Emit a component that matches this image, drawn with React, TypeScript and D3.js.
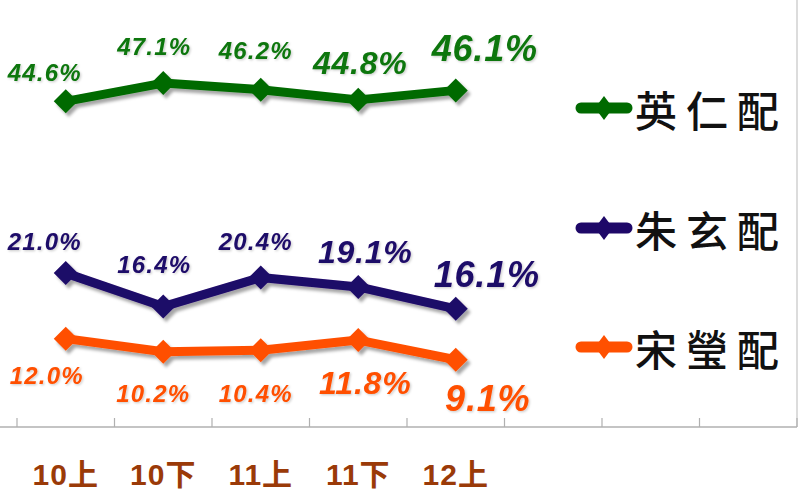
import React from "react";
import * as d3 from "d3";

// ---- data ----
const categories = ["10上", "10下", "11上", "11下", "12上"];
const slotCount = 8; // axis slots (last three empty)
const seriesNames = ["英仁配", "朱玄配", "宋瑩配"];
const yingRen = [44.6, 47.1, 46.2, 44.8, 46.1];
const zhuXuan = [21.0, 16.4, 20.4, 19.1, 16.1];
const songYing = [12.0, 10.2, 10.4, 11.8, 9.1];

// ---- styling / layout ----
const W = 800;
const H = 492;
const lineColors = ["#006a00", "#1e0868", "#ff5000"];
const labelColors = ["#0b760b", "#1e0868", "#ff5000"];
const labelSizes = [24, 24, 24, 32, 36];
const labelDx = [
  [-21, -9, -5, 2, 29],
  [-21, -9, -5, 7, 31],
  [-19, -10, -5, 7, 32],
];
const labelDy = [
  [-20, -28, -31, -26, -29],
  [-23, -34, -27, -24, -22],
  [45, 50, 52, 54, 51],
];
const legendY = [108, 228, 347];

export default function App() {
  const x = d3
    .scaleBand<number>()
    .domain(d3.range(slotCount))
    .range([17, 797])
    .padding(0);
  const y = d3.scaleLinear().domain([0, 50]).range([426, 62]);
  const cx = (i: number) => (x(i) as number) + x.bandwidth() / 2;

  const allSeries = [yingRen, zhuXuan, songYing];
  const line = d3
    .line<number>()
    .x((_, i) => cx(i))
    .y((d) => y(d));

  const diamond = (px: number, py: number, hw: number, hh: number) =>
    `M${px},${py - hh}L${px + hw},${py}L${px},${py + hh}L${px - hw},${py}Z`;

  const axisY = y(0) + 1;
  const ticks = d3.range(slotCount + 1).map((i) => (i < slotCount ? (x(i) as number) : 797));

  return (
    <svg
      width={W}
      height={H}
      style={{ position: "absolute", left: 0, top: 0, display: "block", background: "#fff" }}
    >
      <defs>
        <filter id="shadow" x="-10%" y="-30%" width="130%" height="180%">
          <feDropShadow dx="3" dy="3.5" stdDeviation="1.6" floodColor="#000" floodOpacity="0.35" />
        </filter>
        <filter id="tshadow" x="-10%" y="-30%" width="130%" height="180%">
          <feDropShadow dx="1.2" dy="1.2" stdDeviation="0.8" floodColor="#000" floodOpacity="0.2" />
        </filter>
      </defs>

      {/* right border */}
      <line x1={797} x2={797} y1={0} y2={axisY} stroke="#d0d0d0" strokeWidth={1.5} />

      {/* x axis */}
      <line x1={0} x2={797} y1={axisY} y2={axisY} stroke="#b0b0b0" strokeWidth={1.5} />
      {ticks.map((t, i) => (
        <line key={i} x1={t} x2={t} y1={axisY - 9} y2={axisY} stroke="#b0b0b0" strokeWidth={1.2} />
      ))}
      {categories.map((c, i) => (
        <text
          key={c}
          x={cx(i)}
          y={485}
          textAnchor="middle"
          fontFamily="'Liberation Sans', 'Noto Sans CJK TC', sans-serif"
          fontWeight={700}
          fontSize={30}
          letterSpacing={1}
          fill="#9a3a08"
        >
          {c}
        </text>
      ))}

      {/* series lines + markers */}
      {allSeries.map((s, si) => (
        <g key={si} filter="url(#shadow)">
          <path
            d={line(s) || ""}
            fill="none"
            stroke={lineColors[si]}
            strokeWidth={9}
            strokeLinejoin="round"
          />
          {s.map((v, i) => (
            <path key={i} d={diamond(cx(i), y(v), 12, 12)} fill={lineColors[si]} />
          ))}
        </g>
      ))}

      {/* data labels */}
      {allSeries.map((s, si) => (
        <g key={si} filter="url(#tshadow)">
          {s.map((v, i) => (
            <text
              key={i}
              x={cx(i) + labelDx[si][i]}
              y={y(v) + labelDy[si][i]}
              textAnchor="middle"
              fontFamily="'Liberation Sans', Arial, sans-serif"
              fontWeight={700}
              fontStyle="italic"
              fontSize={labelSizes[i]}
              letterSpacing={labelSizes[i] < 30 ? 1.2 : 0.8}
              fill={labelColors[si]}
            >
              {v.toFixed(1) + "%"}
            </text>
          ))}
        </g>
      ))}

      {/* legend */}
      {seriesNames.map((n, si) => (
        <g key={n}>
          <line
            x1={581}
            x2={627}
            y1={legendY[si]}
            y2={legendY[si]}
            stroke={lineColors[si]}
            strokeWidth={11}
            strokeLinecap="round"
          />
          <path d={diamond(604, legendY[si], 9, 12)} fill={lineColors[si]} />
          <text
            x={635}
            y={legendY[si]}
            dominantBaseline="central"
            fontFamily="'Noto Sans CJK TC', sans-serif"
            fontWeight={500}
            fontSize={42}
            letterSpacing={9}
            fill="#111"
          >
            {n}
          </text>
        </g>
      ))}
    </svg>
  );
}
